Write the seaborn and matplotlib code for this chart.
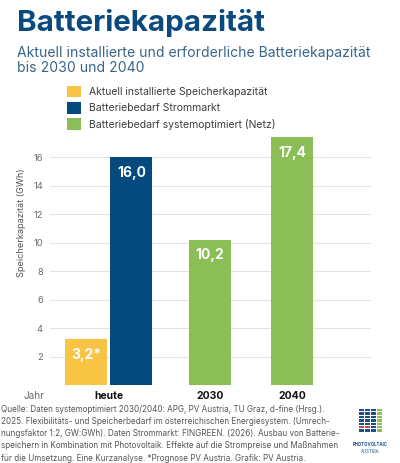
import numpy as np
import pandas as pd
import matplotlib
matplotlib.use("Agg")
import matplotlib.pyplot as plt
import matplotlib.patches as mpatches
import seaborn as sns

# ---------------- data ----------------
jahr = ["heute", "heute", "2030", "2040"]
serie = [
    "Aktuell installierte Speicherkapazität",
    "Batteriebedarf Strommarkt",
    "Batteriebedarf systemoptimiert (Netz)",
    "Batteriebedarf systemoptimiert (Netz)",
]
werte = [3.2, 16.0, 10.2, 17.4]
wert_labels = ["3,2*", "16,0", "10,2", "17,4"]
y_ticks = [0, 2, 4, 6, 8, 10, 12, 14, 16]
y_ticklabels = ["", "2", "4", "6", "8", "10", "12", "14", "16"]

# ---------------- layout / style ----------------
bar_slot = [0.0, 1.0, 2.73, 4.525]          # horizontal slot of each bar
farben = {
    "Aktuell installierte Speicherkapazität": "#F8C443",
    "Batteriebedarf Strommarkt": "#044A7E",
    "Batteriebedarf systemoptimiert (Netz)": "#8BBE57",
}
FONT = ["Inter", "DejaVu Sans"]

sns.set_theme(style="white")
plt.rcParams["font.family"] = FONT

df = pd.DataFrame({"Jahr": jahr, "Serie": serie, "Wert": werte,
                   "Label": wert_labels, "Slot": bar_slot})

fig = plt.figure(figsize=(4.0, 4.63), dpi=100)
ax = fig.add_axes([0.125, 0.1685, 0.8025, 0.5377])

sns.barplot(data=df, x="Slot", y="Wert", hue="Serie", palette=farben,
            native_scale=True, dodge=False, width=0.923, ax=ax,
            errorbar=None, saturation=1, legend=True, linewidth=0)

ax.set_xlim(-0.791, 6.264)
ax.set_ylim(0, 17.5)
ax.set_yticks(y_ticks)
ax.set_yticklabels(y_ticklabels)
ax.grid(axis="y", color="#E2E2E2", linewidth=0.8)
ax.set_axisbelow(True)
for s in ax.spines.values():
    s.set_visible(False)
ax.tick_params(axis="y", length=0, pad=5, labelsize=6.8, labelcolor="#6E6E6E")
ax.tick_params(axis="x", length=0, pad=4, labelsize=7.5, labelcolor="#111111")

# x tick labels at group centres
centres = df.groupby("Jahr", sort=False)["Slot"].mean()
ax.set_xticks(centres.values)
ax.set_xticklabels(centres.index, fontweight="bold")
ax.set_xlabel("")
ax.annotate("Jahr", xy=(-0.051, 0), xycoords="axes fraction",
            xytext=(0, -4), textcoords="offset points", ha="center", va="top",
            fontsize=7.2, color="#6E6E6E")

ax.set_ylabel("Speicherkapazität (GWh)", fontsize=6.6, color="#555555")
ax.yaxis.set_label_coords(-0.076, 0.65)

# value labels inside bars
label_map = {round(v, 2): l for v, l in zip(werte, wert_labels)}
for p in ax.patches:
    h = p.get_height()
    if not np.isfinite(h) or h == 0:
        continue
    lbl = label_map.get(round(h, 2))
    if lbl is None:
        continue
    ax.annotate(lbl, xy=(p.get_x() + p.get_width() / 2, h), xycoords="data",
                xytext=(0, -14), textcoords="offset points", ha="center",
                va="baseline", color="white", fontsize=10, fontweight="bold")

# legend
handles, labels = ax.get_legend_handles_labels()
if ax.legend_:
    ax.legend_.remove()
fig.legend(handles, labels, loc="upper left", bbox_to_anchor=(0.1675, 0.815),
           bbox_transform=fig.transFigure, frameon=False, fontsize=7.5,
           handlelength=1.35, handleheight=1.35, handletextpad=0.75,
           labelspacing=0.45, borderpad=0, borderaxespad=0, labelcolor="#3C3C3C")

# titles
fig.text(0.0425, (463 - 31) / 463, "Batteriekapazität", fontsize=21.3,
         fontweight="bold", color="#0B4A7F", va="baseline", ha="left")
fig.text(0.0425, (463 - 56.5) / 463,
         "Aktuell installierte und erforderliche Batteriekapazität",
         fontsize=10.1, color="#3A6589", va="baseline", ha="left")
fig.text(0.0425, (463 - 72.3) / 463, "bis 2030 und 2040",
         fontsize=10.1, color="#3A6589", va="baseline", ha="left")

# footnote
quelle = ("Quelle: Daten systemoptimiert 2030/2040: APG, PV Austria, TU Graz, d-fine (Hrsg.).\n"
          "2025. Flexibilitäts- und Speicherbedarf im österreichischen Energiesystem. (Umrech-\n"
          "nungsfaktor 1:2, GW:GWh). Daten Strommarkt: FINGREEN. (2026). Ausbau von Batterie-\n"
          "speichern in Kombination mit Photovoltaik. Effekte auf die Strompreise und Maßnahmen\n"
          "für die Umsetzung. Eine Kurzanalyse. *Prognose PV Austria. Grafik: PV Austria.")
fig.text(0.002, (463 - 405) / 463, quelle, fontsize=5.85, color="#555555",
         va="top", ha="left", linespacing=1.45)

# logo (decorative)
lx0, ly0 = 359, 409
for r in range(7):
    for c in range(4):
        col = "#1F4E8C" if c < 3 else "#8BBE57"
        if c < 2 and r == 5:
            col = "#C8444A"
        fig.patches.append(mpatches.Rectangle(
            ((lx0 + c * 6) / 400, 1 - (ly0 + r * 3.4 + 2.4) / 463), 5.4 / 400, 2.4 / 463,
            transform=fig.transFigure, color=col, lw=0))
fig.text(370.5 / 400, 1 - 444.5 / 463, "PHOTOVOLTAIC", fontsize=3.1, color="#1F4E8C",
         ha="center", va="center", fontweight="bold")
fig.text(370.5 / 400, 1 - 451.5 / 463, "AUSTRIA", fontsize=3.1, color="#1F4E8C",
         ha="center", va="center")

fig.savefig("out.png", dpi=100)
